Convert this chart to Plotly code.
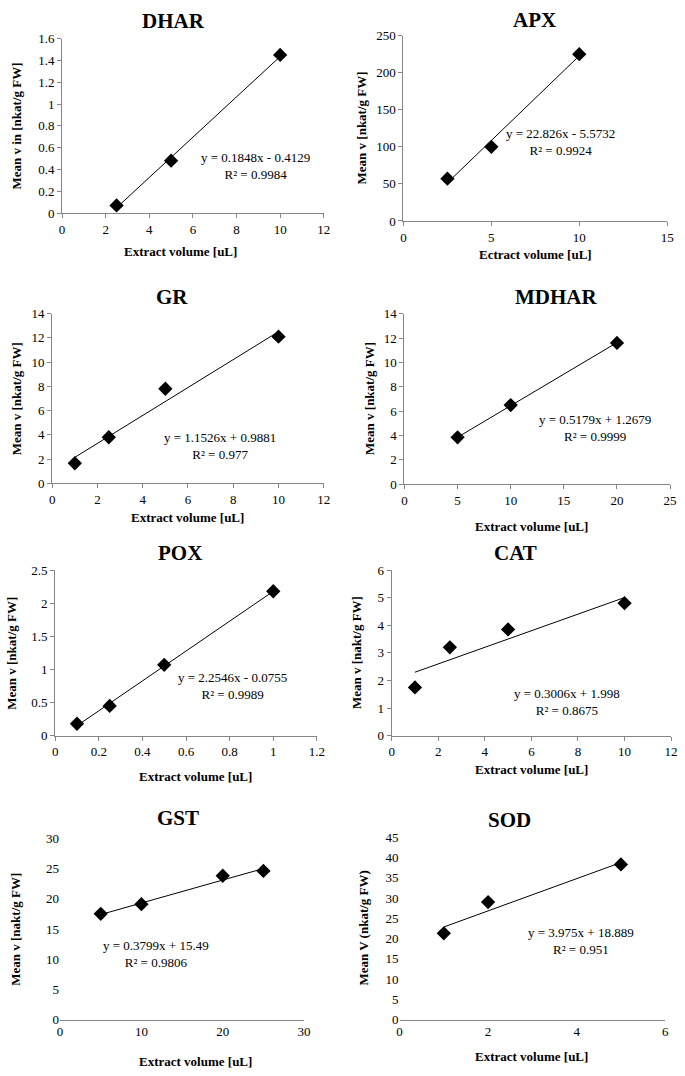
import plotly.graph_objects as go

W, H = 685, 1076

# ---- data ----
names = ["DHAR", "APX", "GR", "MDHAR", "POX", "CAT", "GST", "SOD"]

dhar_x = [2.5, 5, 10]
dhar_y = [0.07, 0.48, 1.45]
apx_x = [2.5, 5, 10]
apx_y = [57, 100, 225]
gr_x = [1, 2.5, 5, 10]
gr_y = [1.65, 3.8, 7.8, 12.1]
mdhar_x = [5, 10, 20]
mdhar_y = [3.85, 6.5, 11.6]
pox_x = [0.1, 0.25, 0.5, 1]
pox_y = [0.18, 0.45, 1.07, 2.18]
cat_x = [1, 2.5, 5, 10]
cat_y = [1.75, 3.2, 3.85, 4.8]
gst_x = [5, 10, 20, 25]
gst_y = [17.5, 19.1, 23.8, 24.6]
sod_x = [1, 2, 5]
sod_y = [21.3, 29, 38.3]

# trendline coefficients (slope, intercept) as printed
slopes = [0.1848, 22.826, 1.1526, 0.5179, 2.2546, 0.3006, 0.3799, 3.975]
intercepts = [-0.4129, -5.5732, 0.9881, 1.2679, -0.0755, 1.998, 15.49, 18.889]
eq_texts = ["y = 0.1848x - 0.4129", "y = 22.826x - 5.5732", "y = 1.1526x + 0.9881",
            "y = 0.5179x + 1.2679", "y = 2.2546x - 0.0755", "y = 0.3006x + 1.998",
            "y = 0.3799x + 15.49", "y = 3.975x + 18.889"]
r2_texts = ["R² = 0.9984", "R² = 0.9924", "R² = 0.977", "R² = 0.9999",
            "R² = 0.9989", "R² = 0.8675", "R² = 0.9806", "R² = 0.951"]

x_titles = ["Extract volume [uL]", "Ectract volume [uL]", "Extract volume [uL]",
            "Extract volume [uL]", "Extract volume [uL]", "Extract volume [uL]",
            "Extract volume [uL]", "Extract volume [uL]"]
y_titles = ["Mean v in [nkat/g FW]", "Mean v [nkat/g FW]", "Mean v [nkat/g FW]",
            "Mean v [nkat/g FW]", "Mean v [nkat/g FW]", "Mean v [nakt/g FW]",
            "Mean v [nakt/g FW]", "Mean V (nkat/g FW)"]

x_ranges = [(0, 12, 2), (0, 15, 5), (0, 12, 2), (0, 25, 5), (0, 1.2, 0.2), (0, 12, 2), (0, 30, 10), (0, 6, 2)]
y_ranges = [(0, 1.6, 0.2), (0, 250, 50), (0, 14, 2), (0, 14, 2), (0, 2.5, 0.5), (0, 6, 1), (0, 30, 5), (0, 45, 5)]

xs = [dhar_x, apx_x, gr_x, mdhar_x, pox_x, cat_x, gst_x, sod_x]
ys = [dhar_y, apx_y, gr_y, mdhar_y, pox_y, cat_y, gst_y, sod_y]

# ---- layout geometry in pixels ----
boxes = [(60, 326, 32, 209), (407, 675, 29, 217), (50, 326, 311, 483), (408, 678, 311, 484),
         (53, 319, 571, 739), (395, 679, 571, 739), (58, 306, 843, 1027), (403, 673, 842, 1027)]
title_pos = [(173, 14), (540, 13), (172, 294), (562, 294), (180, 554), (521, 554), (178, 822), (515, 825)]
xtitle_pos = [(180, 248), (541, 251), (188, 518), (537, 527), (196, 780), (537, 773), (196, 1069), (537, 1064)]
ytitle_x = [14, 364, 14, 373, 9, 360, 13, 366]
eq_pos = [(257, 154), (567, 129), (221, 438), (602, 419), (233, 681), (573, 697), (155, 953), (587, 940)]

FONT = "Liberation Serif, Times New Roman, serif"
AX = "#868686"

fig = go.Figure()
layout = dict(width=W, height=H, margin=dict(l=0, r=0, t=0, b=0),
              paper_bgcolor="white", plot_bgcolor="white", showlegend=False,
              font=dict(family=FONT, size=13, color="black"))
annotations = []


def px(x):
    return x / W


def py(y):
    return 1 - y / H


def label(text, x, y, size, angle=0):
    return dict(text=text, x=px(x), y=py(y), xref="paper", yref="paper", showarrow=False,
                xanchor="center", yanchor="middle", align="center", textangle=angle,
                font=dict(family=FONT, size=size, color="black"))


for i in range(8):
    n = i + 1
    xa = "x" if n == 1 else f"x{n}"
    ya = "y" if n == 1 else f"y{n}"
    l, r, t, b = boxes[i]
    xmin, xmax, xd = x_ranges[i]
    ymin, ymax, yd = y_ranges[i]
    noaxis = i >= 6
    layout["xaxis" if n == 1 else f"xaxis{n}"] = dict(
        domain=[px(l), px(r)], range=[xmin, xmax], tick0=0, dtick=xd, anchor=ya,
        showgrid=False, zeroline=False, showline=True, linecolor=AX, linewidth=1,
        ticks="" if noaxis else "outside", ticklen=4, tickcolor=AX,
        tickfont=dict(family=FONT, size=13, color="black"), fixedrange=True)
    layout["yaxis" if n == 1 else f"yaxis{n}"] = dict(
        domain=[py(b), py(t)], range=[ymin, ymax], tick0=0, dtick=yd, anchor=xa,
        showgrid=False, zeroline=False, showline=not noaxis, linecolor=AX, linewidth=1,
        ticks="" if noaxis else "outside", ticklen=4, tickcolor=AX,
        tickfont=dict(family=FONT, size=13, color="black"), fixedrange=True)
    fig.add_trace(go.Scatter(x=xs[i], y=ys[i], mode="markers", xaxis=xa, yaxis=ya,
                             marker=dict(symbol="diamond", size=11, color="black")))
    x0, x1 = min(xs[i]), max(xs[i])
    fig.add_trace(go.Scatter(x=[x0, x1], y=[slopes[i] * x0 + intercepts[i], slopes[i] * x1 + intercepts[i]],
                             mode="lines", xaxis=xa, yaxis=ya, line=dict(color="black", width=1)))
    annotations.append(label(f"<b>{names[i]}</b>", title_pos[i][0], title_pos[i][1], 21))
    annotations.append(label(f"<b>{x_titles[i]}</b>", xtitle_pos[i][0], xtitle_pos[i][1], 13))
    annotations.append(label(f"<b>{y_titles[i]}</b>", ytitle_x[i], (t + b) / 2, 13, -90))
    annotations.append(label(f"{eq_texts[i]}<br>{r2_texts[i]}", eq_pos[i][0], eq_pos[i][1] + 7.5, 13))

layout["annotations"] = annotations
fig.update_layout(**layout)
fig.write_html(
    "out.html",
    config={"displayModeBar": False, "responsive": False},
    post_script=("document.body.style.margin='0';"
                 "document.body.style.overflow='hidden';"
                 "document.documentElement.style.overflow='hidden';"),
)
